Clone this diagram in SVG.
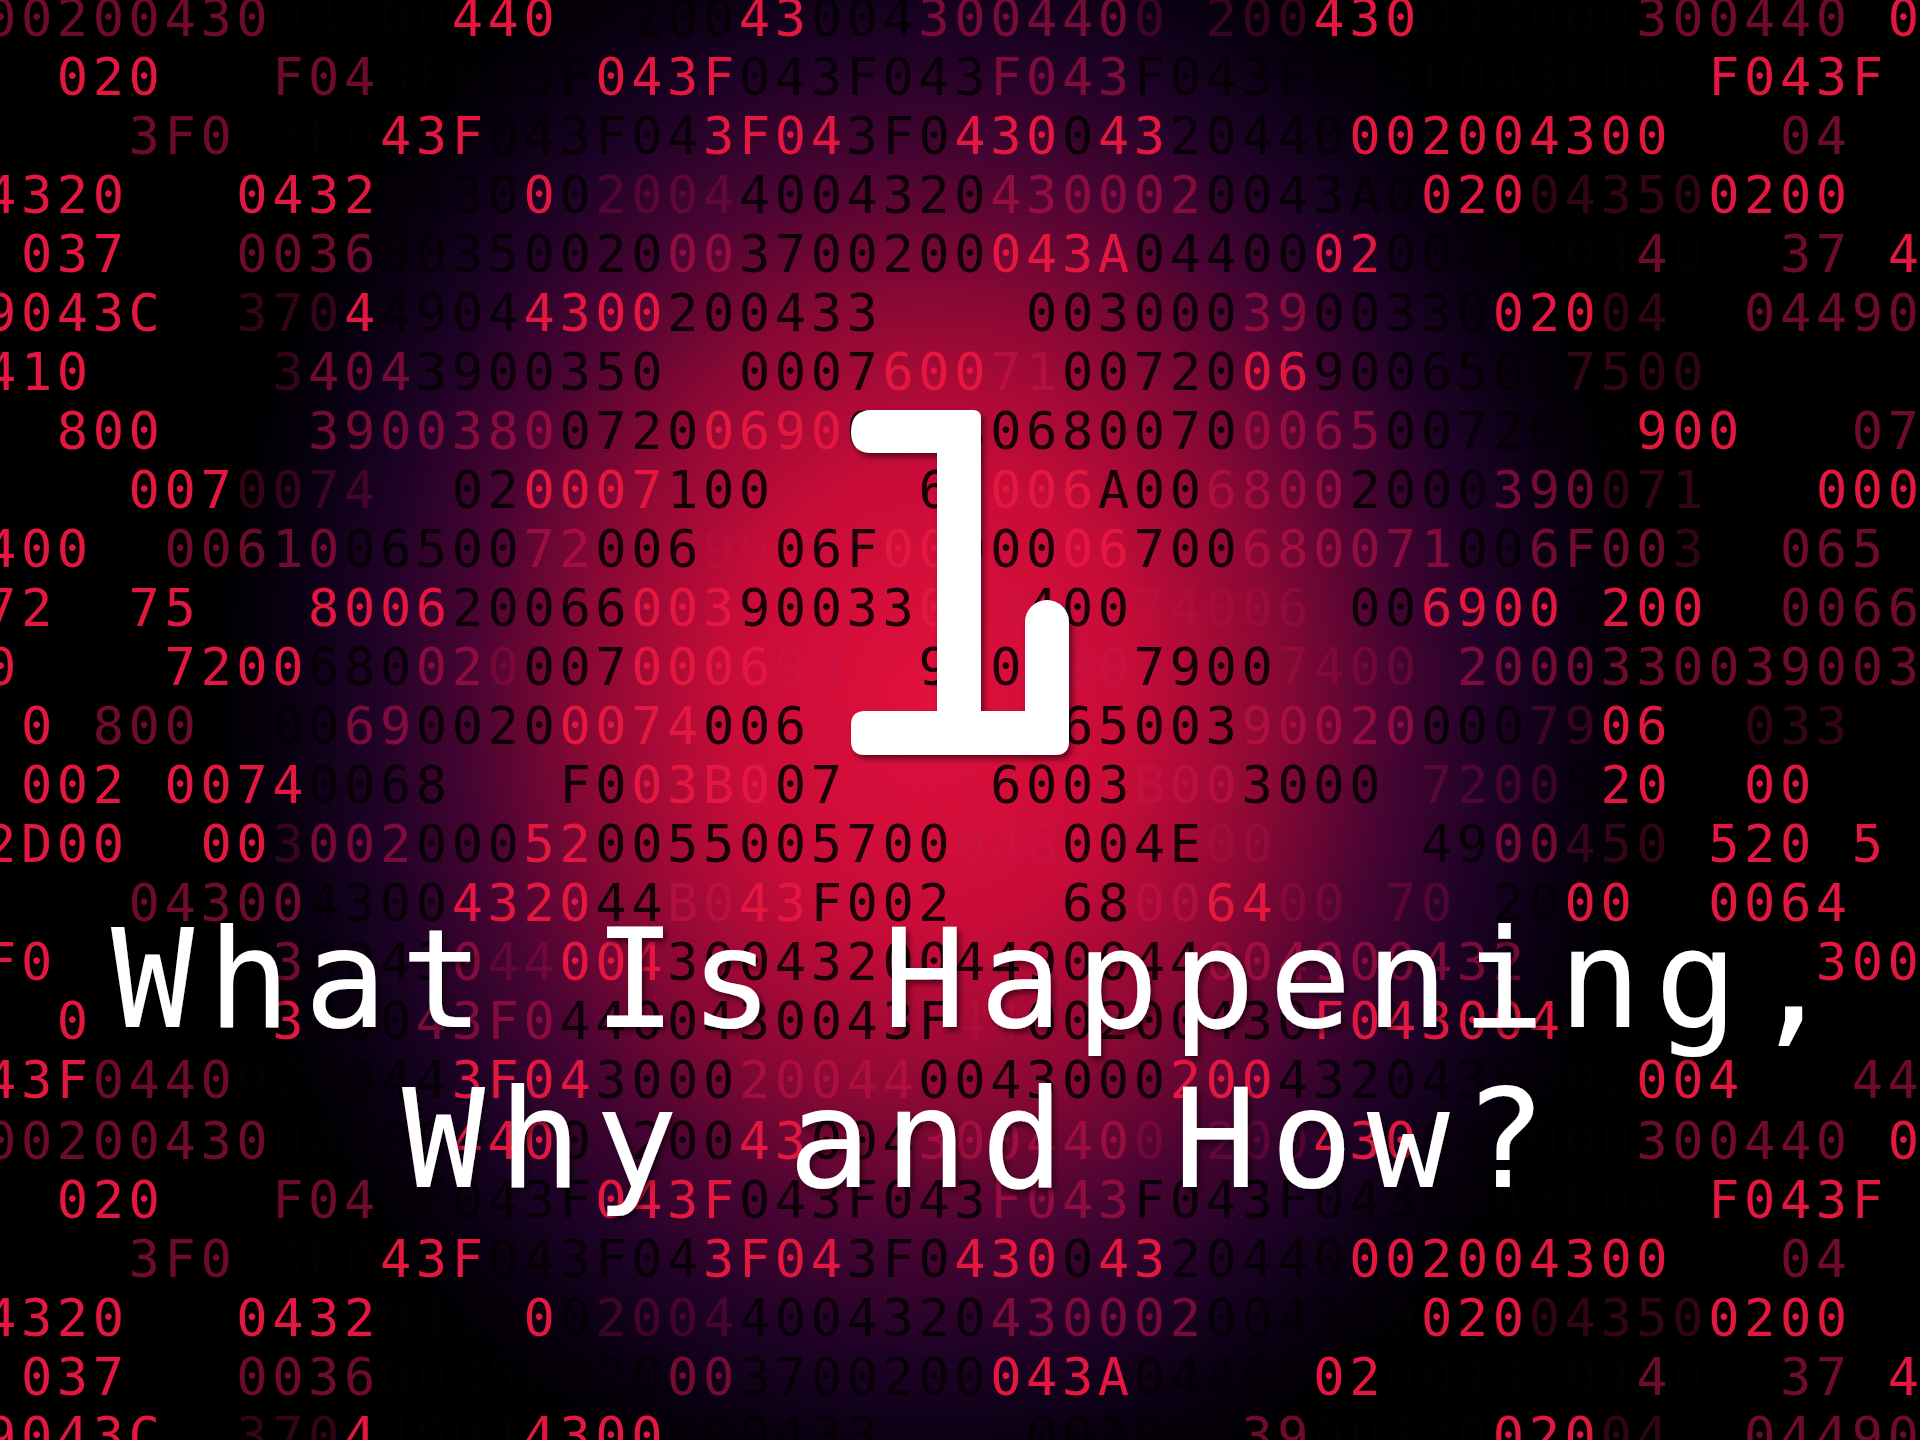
<svg xmlns="http://www.w3.org/2000/svg" xmlns:xlink="http://www.w3.org/1999/xlink" width="1920" height="1440" viewBox="0 0 1920 1440" xml:space="preserve">
<defs>
<radialGradient id="glow" gradientUnits="userSpaceOnUse" cx="930" cy="700" r="720" gradientTransform="translate(930 700) scale(1 1.17) translate(-930 -700)">
<stop offset="0" stop-color="#e2103c"/>
<stop offset="0.28" stop-color="#c80c38"/>
<stop offset="0.48" stop-color="#8a0834"/>
<stop offset="0.64" stop-color="#480432"/>
<stop offset="0.78" stop-color="#1e0226"/>
<stop offset="0.9" stop-color="#080010"/>
<stop offset="1" stop-color="#000000"/>
</radialGradient>
<filter id="shadow" x="-10%" y="-10%" width="120%" height="130%">
<feDropShadow dx="3" dy="4" stdDeviation="3" flood-color="#000" flood-opacity="0.55"/>
</filter>
<style>
.row{font-family:"DejaVu Sans Mono",monospace;font-size:52px;letter-spacing:4.59px;white-space:pre}
.r{fill:#e3173f}
.d{fill:#c8144a;fill-opacity:.55}
.f{fill:#c8144a;fill-opacity:.25}
.k{fill:#050004;fill-opacity:.9}
.title{font-family:"DejaVu Sans Mono",monospace;font-size:138px;letter-spacing:13.4px;fill:#ffffff;white-space:pre}
</style>
</defs>
<g id="background">
<rect x="0" y="0" width="1920" height="1440" fill="#000"/>
<rect x="0" y="0" width="1920" height="1440" fill="url(#glow)"/>
</g>
<g id="digits">
<text id="row0" class="row" x="-15" y="36"><tspan class="d">00200430</tspan><tspan class="k">04300</tspan><tspan class="r">440</tspan><tspan class="k">0 200</tspan><tspan class="r">43</tspan><tspan class="k">004</tspan><tspan class="d">300440</tspan><tspan class="f">0 200</tspan><tspan class="r">430</tspan><tspan class="k">043000</tspan><tspan class="d">300440</tspan> <tspan class="r">0</tspan></text>
<text id="row1" class="row" x="-15" y="95">  <tspan class="r">020</tspan>   <tspan class="d">F04</tspan><tspan class="k">3F043F</tspan><tspan class="r">043F</tspan><tspan class="k">043F043</tspan><tspan class="d">F043</tspan><tspan class="k">F043F043F043F04</tspan> <tspan class="r">F043F</tspan></text>
<text id="row2" class="row" x="-15" y="154">    <tspan class="d">3F0</tspan> <tspan class="k">3F0</tspan><tspan class="r">43F</tspan><tspan class="k">043F04</tspan><tspan class="r">3F04</tspan><tspan class="k">3F0</tspan><tspan class="r">430</tspan><tspan class="k">0</tspan><tspan class="r">43</tspan><tspan class="k">20440</tspan><tspan class="r">002004300</tspan>   <tspan class="d">04</tspan></text>
<text id="row3" class="row" x="-15" y="213"><tspan class="r">4320</tspan>   <tspan class="r">0432</tspan><tspan class="k">0430</tspan><tspan class="r">0</tspan><tspan class="k">0</tspan><tspan class="f">2004</tspan><tspan class="k">4004320</tspan><tspan class="d">430002</tspan><tspan class="k">0043A0</tspan><tspan class="r">020</tspan><tspan class="f">04350</tspan><tspan class="r">0200</tspan></text>
<text id="row4" class="row" x="-15" y="272"> <tspan class="r">037</tspan>   <tspan class="d">0036</tspan><tspan class="k">00350020</tspan><tspan class="d">00</tspan><tspan class="k">3700200</tspan><tspan class="r">043A</tspan><tspan class="k">04400</tspan><tspan class="r">02</tspan><tspan class="k">0043204</tspan><tspan class="d">4</tspan><tspan class="k">0</tspan>  <tspan class="d">37</tspan> <tspan class="r">4</tspan></text>
<text id="row5" class="row" x="-15" y="331"><tspan class="r">9043C</tspan>  <tspan class="f">370</tspan><tspan class="r">4</tspan><tspan class="k">4904</tspan><tspan class="r">4300</tspan><tspan class="k">200433</tspan>    <tspan class="k">003000</tspan><tspan class="d">39</tspan><tspan class="k">00330</tspan><tspan class="r">020</tspan><tspan class="f">04</tspan>  <tspan class="d">04490</tspan></text>
<text id="row6" class="row" x="-15" y="390"><tspan class="r">410</tspan>     <tspan class="f">3</tspan><tspan class="d">404</tspan><tspan class="k">3900350</tspan>  <tspan class="k">0007</tspan><tspan class="r">600</tspan><tspan class="d">71</tspan><tspan class="k">00720</tspan><tspan class="r">06</tspan><tspan class="k">9006500</tspan><tspan class="f">7500</tspan></text>
<text id="row7" class="row" x="-15" y="449">  <tspan class="r">800</tspan>    <tspan class="d">3900380</tspan><tspan class="k">0720</tspan><tspan class="r">0690</tspan><tspan class="k">00680680070</tspan><tspan class="d">0065</tspan><tspan class="k">0072003</tspan><tspan class="r">900</tspan>   <tspan class="d">07</tspan></text>
<text id="row8" class="row" x="-15" y="508">    <tspan class="r">007</tspan><tspan class="f">0074</tspan>  <tspan class="k">02</tspan><tspan class="r">0007</tspan><tspan class="k">100</tspan>    <tspan class="k">6</tspan> <tspan class="r">006</tspan><tspan class="k">A00</tspan><tspan class="d">6800</tspan><tspan class="k">2000</tspan><tspan class="d">390</tspan><tspan class="f">071</tspan>   <tspan class="r">000</tspan></text>
<text id="row9" class="row" x="-15" y="567"><tspan class="r">400</tspan>  <tspan class="d">00610</tspan><tspan class="k">06500</tspan><tspan class="d">72</tspan><tspan class="k">006</tspan><tspan class="f">90</tspan><tspan class="k">06F</tspan><tspan class="r">00</tspan><tspan class="k">000</tspan><tspan class="r">06</tspan><tspan class="k">700</tspan><tspan class="d">680071</tspan><tspan class="k">00</tspan><tspan class="d">6F00</tspan><tspan class="f">3</tspan>  <tspan class="d">065</tspan></text>
<text id="row10" class="row" x="-15" y="626"><tspan class="r">72</tspan>  <tspan class="r">75</tspan>   <tspan class="r">8006</tspan><tspan class="k">20066</tspan><tspan class="r">003</tspan><tspan class="k">90033</tspan><tspan class="r">0</tspan> <tspan class="d">3</tspan><tspan class="k">400</tspan><tspan class="f">74006</tspan> <tspan class="k">00</tspan><tspan class="r">6900</tspan><tspan class="k">7</tspan><tspan class="r">200</tspan>  <tspan class="d">0066</tspan></text>
<text id="row11" class="row" x="-15" y="685"><tspan class="r">0</tspan>    <tspan class="r">7200</tspan><tspan class="k">680</tspan><tspan class="d">02</tspan><tspan class="f">0</tspan><tspan class="k">007</tspan><tspan class="r">0006</tspan><tspan class="d">90</tspan>  <tspan class="k">9</tspan> <tspan class="k">0</tspan><tspan class="d">300</tspan><tspan class="k">7900</tspan><tspan class="f">7400 </tspan><tspan class="d">2000330039003</tspan></text>
<text id="row12" class="row" x="-15" y="744"> <tspan class="r">0</tspan> <tspan class="d">800</tspan>  <tspan class="k">00</tspan><tspan class="d">69</tspan><tspan class="k">0020</tspan><tspan class="r">0074</tspan><tspan class="k">006</tspan><tspan class="f">8</tspan>      <tspan class="k">65003</tspan><tspan class="d">90020</tspan><tspan class="k">000</tspan><tspan class="f">79</tspan><tspan class="r">06</tspan>  <tspan class="f">033</tspan></text>
<text id="row13" class="row" x="-15" y="803"> <tspan class="r">002</tspan> <tspan class="r">0074</tspan><tspan class="k">0068</tspan>   <tspan class="k">F0</tspan><tspan class="r">03B0</tspan><tspan class="k">07</tspan><tspan class="f">7006</tspan><tspan class="k">6003</tspan><tspan class="d">B00</tspan><tspan class="k">3000</tspan> <tspan class="f">7200</tspan><tspan class="k">5</tspan><tspan class="r">20</tspan>  <tspan class="r">00</tspan></text>
<text id="row14" class="row" x="-15" y="862"><tspan class="r">2D00</tspan>  <tspan class="r">00</tspan><tspan class="f">3</tspan><tspan class="d">002</tspan><tspan class="k">000</tspan><tspan class="r">52</tspan><tspan class="k">0055005700</tspan><tspan class="d">046</tspan><tspan class="k">004E</tspan><tspan class="f">00</tspan>    <tspan class="k">49</tspan><tspan class="d">00</tspan><tspan class="f">450</tspan> <tspan class="r">520</tspan> <tspan class="r">5</tspan></text>
<text id="row15" class="row" x="-15" y="921">    <tspan class="d">04300</tspan><tspan class="k">4300</tspan><tspan class="r">4320</tspan><tspan class="k">44</tspan><tspan class="d">B0</tspan><tspan class="r">43</tspan><tspan class="k">F002</tspan>   <tspan class="k">68</tspan><tspan class="d">00</tspan><tspan class="r">64</tspan><tspan class="f">00 70</tspan> <tspan class="k">20</tspan><tspan class="r">00</tspan>  <tspan class="r">0064</tspan></text>
<text id="row16" class="row" x="-15" y="980"><tspan class="r">F0</tspan>      <tspan class="d">3</tspan><tspan class="k">0043</tspan><tspan class="d">0</tspan><tspan class="f">44</tspan><tspan class="r">004</tspan><tspan class="k">300432004490044</tspan><tspan class="d">004900432</tspan>        <tspan class="r">300</tspan></text>
<text id="row17" class="row" x="-15" y="1039">  <tspan class="r">0</tspan>     <tspan class="r">3</tspan><tspan class="k">200</tspan><tspan class="d">43F0</tspan><tspan class="k">4400430043F</tspan><tspan class="f">44</tspan><tspan class="k">00200430</tspan><tspan class="r">F043004</tspan></text>
<text id="row18" class="row" x="-15" y="1098"><tspan class="r">43F</tspan><tspan class="d">0440</tspan><tspan class="k">020044</tspan><tspan class="r">3F04</tspan><tspan class="k">3000</tspan><tspan class="d">20044</tspan><tspan class="k">0043000</tspan><tspan class="r">200</tspan><tspan class="k">4320430002</tspan><tspan class="r">004</tspan>   <tspan class="d">44</tspan></text>
<use href="#row0" transform="translate(0 1122.9)"/>
<use href="#row1" transform="translate(0 1122.9)"/>
<use href="#row2" transform="translate(0 1122.9)"/>
<use href="#row3" transform="translate(0 1122.9)"/>
<use href="#row4" transform="translate(0 1122.9)"/>
<use href="#row5" transform="translate(0 1122.9)"/>
</g>
<g id="numeral-1" filter="url(#shadow)">
<path d="M 869 410 H 973 Q 981 410 981 418 V 711 H 1025 V 622 A 22 22 0 0 1 1069 622 V 741 Q 1069 755 1055 755 H 865 Q 851 755 851 741 V 725 Q 851 711 865 711 H 937 V 453 H 872 Q 851 453 851 432 Q 851 410 872 410 Z" fill="#ffffff"/>
</g>
<g id="title" filter="url(#shadow)">
<text class="title" x="111" y="1027">What Is Happening,</text>
<text class="title" x="402" y="1187">Why and How?</text>
</g>
</svg>
